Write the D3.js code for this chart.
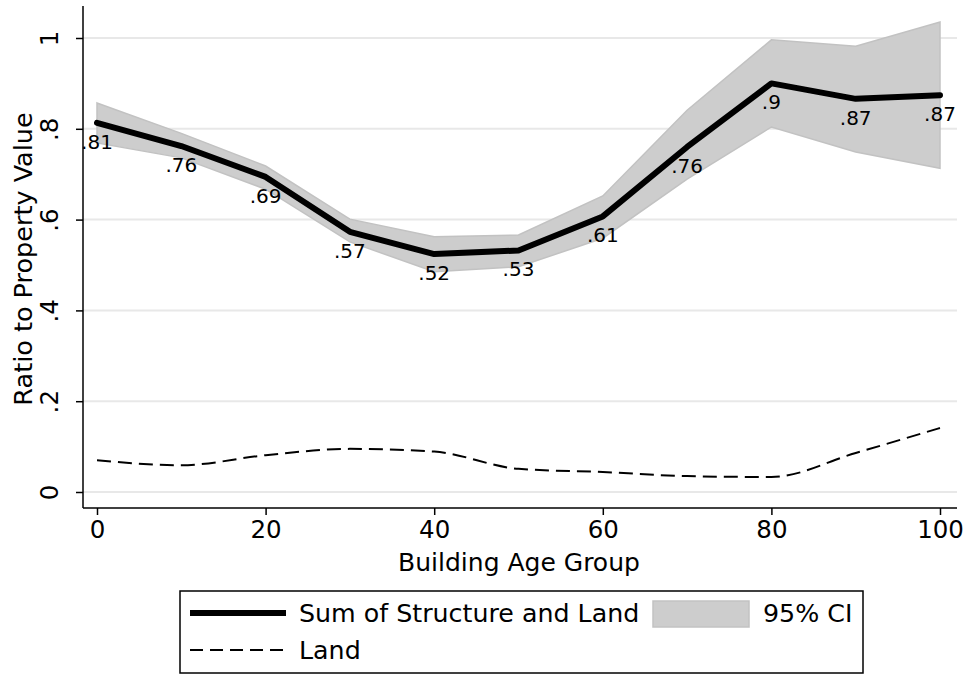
<!DOCTYPE html>
<html><head><meta charset="utf-8">
<script src="https://cdn.jsdelivr.net/npm/d3@7"></script>
<style>
html,body{margin:0;padding:0;background:#fff;}
text{font-family:"DejaVu Sans",sans-serif;fill:#000;}
</style></head>
<body>
<svg id="c" width="969" height="677"></svg>
<script>
const ageGroups = [0,10,20,30,40,50,60,70,80,90,100];
const sumValues = [0.813,0.762,0.694,0.573,0.524,0.532,0.607,0.760,0.900,0.866,0.874];
const ciUpper  = [0.857,0.790,0.718,0.601,0.562,0.566,0.652,0.841,0.996,0.982,1.035];
const ciLower  = [0.769,0.736,0.667,0.551,0.485,0.496,0.559,0.689,0.804,0.749,0.713];
const landValues = [0.070,0.059,0.081,0.095,0.089,0.051,0.044,0.035,0.033,0.086,0.141];
const xTicks = [0,20,40,60,80,100];
const yTicks = [0,0.2,0.4,0.6,0.8,1];
const legendLabels = ["Sum of Structure and Land","95% CI","Land"];

const svg = d3.select("#c");
const x = d3.scaleLinear().domain([0,100]).range([97,940]);
const y = d3.scaleLinear().domain([0,1]).range([492,38]);
const plotL = 83, plotR = 957, plotT = 6, plotB = 508;
const fmt = v => d3.format(".2~f")(v).replace(/^0\./,".");
const data = ageGroups.map((a,i)=>({a, s:sumValues[i], u:ciUpper[i], l:ciLower[i], land:landValues[i]}));

// gridlines
svg.append("g").selectAll("line").data(yTicks).join("line")
  .attr("x1",plotL).attr("x2",plotR).attr("y1",d=>y(d)).attr("y2",d=>y(d))
  .attr("stroke","#e8e8e8").attr("stroke-width",2);

// CI band
svg.append("path").datum(data)
  .attr("d", d3.area().x(d=>x(d.a)).y0(d=>y(d.l)).y1(d=>y(d.u)))
  .attr("fill","#cdcdcd").attr("stroke","#c2c2c2").attr("stroke-width",1.5);

// Land dashed
svg.append("path").datum(data)
  .attr("d", d3.line().x(d=>x(d.a)).y(d=>y(d.land)).curve(d3.curveMonotoneX))
  .attr("fill","none").attr("stroke","#000").attr("stroke-width",2).attr("stroke-dasharray","14,7");

// Sum line
svg.append("path").datum(data)
  .attr("d", d3.line().x(d=>x(d.a)).y(d=>y(d.s)))
  .attr("fill","none").attr("stroke","#000").attr("stroke-width",6).attr("stroke-linejoin","round").attr("stroke-linecap","round");

// labels
svg.append("g").selectAll("text").data(data).join("text")
  .attr("x",d=>x(d.a)).attr("y",d=>y(d.s)+26).attr("text-anchor","middle")
  .attr("font-size",20).text(d=>fmt(d.s));

// axes
const xAxis = d3.axisBottom(x).tickValues(xTicks).tickSize(7).tickPadding(6).tickFormat(d3.format("d"));
const gx = svg.append("g").attr("transform",`translate(0,${plotB})`).call(xAxis);
gx.select(".domain").attr("d",`M${plotL},0H${plotR}`).attr("stroke","#000").attr("stroke-width",1.5);
gx.selectAll(".tick line").attr("stroke","#000").attr("stroke-width",1.5);
gx.selectAll(".tick text").attr("font-size",24.5).attr("font-family","DejaVu Sans").attr("fill","#000");

const yAxis = d3.axisLeft(y).tickValues(yTicks).tickSize(7).tickFormat(d=> d===0?"0":d===1?"1":fmt(d));
const gy = svg.append("g").attr("transform",`translate(${plotL},0)`).call(yAxis);
gy.select(".domain").attr("d",`M0,${plotT}V${plotB}`).attr("stroke","#000").attr("stroke-width",1.5);
gy.selectAll(".tick line").attr("stroke","#000").attr("stroke-width",1.5);
gy.selectAll(".tick text").attr("font-size",24.5).attr("font-family","DejaVu Sans").attr("fill","#000")
  .attr("x",null).attr("dy",null).attr("text-anchor","middle")
  .attr("transform","translate(-25,0) rotate(-90)");

// axis titles
svg.append("text").attr("x",519).attr("y",571).attr("text-anchor","middle").attr("font-size",25).text("Building Age Group");
svg.append("text").attr("transform","translate(32,259) rotate(-90)").attr("text-anchor","middle").attr("font-size",25.5).text("Ratio to Property Value");

// legend
const lg = svg.append("g");
lg.append("rect").attr("x",180).attr("y",591).attr("width",683).attr("height",82).attr("fill","#fff").attr("stroke","#000").attr("stroke-width",1.5);
lg.append("line").attr("x1",190).attr("x2",286).attr("y1",613).attr("y2",613).attr("stroke","#000").attr("stroke-width",6);
lg.append("text").attr("x",299).attr("y",622).attr("font-size",25.3).text(legendLabels[0]);
lg.append("rect").attr("x",653).attr("y",601).attr("width",96).attr("height",26).attr("fill","#cdcdcd").attr("stroke","#c2c2c2").attr("stroke-width",1.5);
lg.append("text").attr("x",763).attr("y",622).attr("font-size",25.3).text(legendLabels[1]);
lg.append("line").attr("x1",190).attr("x2",286).attr("y1",650).attr("y2",650).attr("stroke","#000").attr("stroke-width",2).attr("stroke-dasharray","13,7");
lg.append("text").attr("x",299).attr("y",659).attr("font-size",25.3).text(legendLabels[2]);
</script>
</body></html>
